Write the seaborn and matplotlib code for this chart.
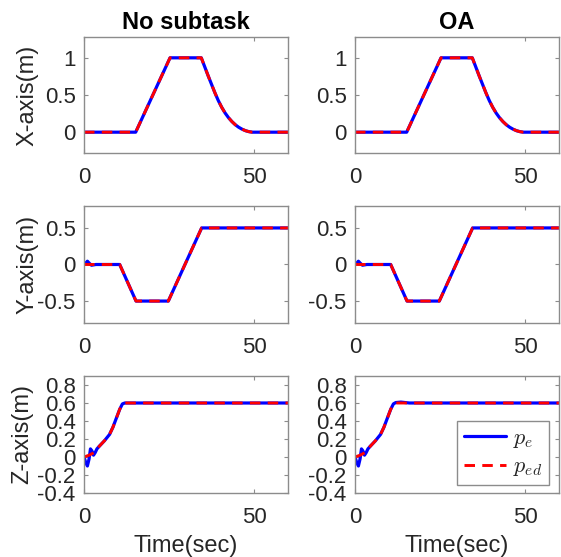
import matplotlib
matplotlib.use("Agg")
import matplotlib.pyplot as plt
import seaborn as sns

# ---------------- data ----------------
titles = ["No subtask", "OA"]
ylabels = ["X-axis(m)", "Y-axis(m)", "Z-axis(m)"]
legend_labels = [r"$p_e$", r"$p_{ed}$"]

# X axis: desired and actual (identical within line width)
x_t = [0, 15.2, 25.3, 34.5, 35.5, 36.5, 37.5, 38.5, 39.5, 40.5, 41.5, 42.5,
       43.5, 44.5, 45.5, 46.5, 47.5, 48.5, 49.5, 60]
x_ed = [0, 0, 1, 1, 0.88, 0.76, 0.645, 0.53, 0.425, 0.335, 0.258, 0.195,
        0.143, 0.1, 0.066, 0.04, 0.02, 0.007, 0, 0]
x_e = [0, 0, 1, 1, 0.88, 0.76, 0.645, 0.53, 0.425, 0.335, 0.258, 0.195,
       0.143, 0.1, 0.066, 0.04, 0.02, 0.007, 0, 0]

# Y axis
y_t_d = [0, 10.5, 15.3, 24.8, 34.6, 60]
y_ed = [0, 0, -0.5, -0.5, 0.5, 0.5]
y_t_e = [0, 0.5, 1.0, 1.5, 2.2, 3.5, 10.5, 15.3, 24.8, 34.6, 60]
y_e = [0, 0.02, 0.045, 0.02, -0.01, 0, 0, -0.5, -0.5, 0.5, 0.5]

# Z axis
z_t_d = [0, 1.5, 3, 4.5, 6, 7.5, 8.5, 9.5, 10.5, 11.3, 12, 60]
z_ed = [0, 0.02, 0.05, 0.12, 0.18, 0.25, 0.33, 0.43, 0.53, 0.59, 0.6, 0.6]
z_t_e1 = [0, 0.5, 1.0, 1.5, 1.9, 2.3, 2.8, 3.3, 3.8, 4.5, 6, 7.5, 8.5, 9.5,
          10.5, 11.3, 12, 60]
z_e1 = [0, -0.06, -0.1, -0.02, 0.09, 0.07, 0.02, 0.05, 0.09, 0.12, 0.18,
        0.25, 0.33, 0.43, 0.53, 0.59, 0.6, 0.6]
z_t_e2 = [0, 0.5, 1.0, 1.5, 1.9, 2.3, 2.8, 3.3, 3.8, 4.5, 6, 7.5, 8.5, 9.5,
          10.5, 11.3, 12, 13.5, 16, 60]
z_e2 = [0, -0.06, -0.1, -0.02, 0.09, 0.07, 0.02, 0.05, 0.09, 0.12, 0.18,
        0.25, 0.33, 0.43, 0.53, 0.59, 0.605, 0.61, 0.6, 0.6]

xticks = [0, 50]
yticks_rows = [[0, 0.5, 1], [-0.5, 0, 0.5], [-0.4, -0.2, 0, 0.2, 0.4, 0.6, 0.8]]
ytick_labels_rows = [["0", "0.5", "1"], ["-0.5", "0", "0.5"],
                     ["-0.4", "-0.2", "0", "0.2", "0.4", "0.6", "0.8"]]
ylims = [(-0.28, 1.28), (-0.8, 0.8), (-0.4, 0.9)]

# ---------------- style ----------------
sns.set_theme(style="white")
plt.rcParams["font.family"] = ["Liberation Sans", "DejaVu Sans"]
plt.rcParams["mathtext.fontset"] = "cm"
plt.rcParams["axes.unicode_minus"] = False

GRAY = "#8c8c8c"
TXT = "#262626"
BLUE = "#0000ff"
RED = "#ff0000"

fig = plt.figure(figsize=(5.61, 5.57), dpi=100)

lefts = [84 / 561, 355 / 561]
width = 204 / 561
rows = [(37, 153), (206, 323), (376, 493)]

series = [
    [(x_t, x_e, x_t, x_ed), (x_t, x_e, x_t, x_ed)],
    [(y_t_e, y_e, y_t_d, y_ed), (y_t_e, y_e, y_t_d, y_ed)],
    [(z_t_e1, z_e1, z_t_d, z_ed), (z_t_e2, z_e2, z_t_d, z_ed)],
]

for r, (top, bot) in enumerate(rows):
    for c in range(2):
        ax = fig.add_axes([lefts[c], 1 - bot / 557, width, (bot - top) / 557])
        te, ve, td, vd = series[r][c]
        sns.lineplot(x=te, y=ve, ax=ax, color=BLUE, linewidth=2.3,
                     estimator=None, sort=False, label=legend_labels[0])
        sns.lineplot(x=td, y=vd, ax=ax, color=RED, linewidth=2.1,
                     estimator=None, sort=False, label=legend_labels[1],
                     linestyle=(0, (3.6, 2.5)))
        ax.set_xlim(0, 60)
        ax.set_ylim(*ylims[r])
        ax.set_xticks(xticks)
        ax.set_xticklabels([str(v) for v in xticks])
        ax.set_yticks(yticks_rows[r])
        ax.set_yticklabels(ytick_labels_rows[r])
        for s in ax.spines.values():
            s.set_color(GRAY)
            s.set_linewidth(1.0)
        ax.tick_params(axis="both", which="both", direction="in", length=3,
                       width=0.8, color=GRAY, labelcolor=TXT, labelsize=16,
                       top=True, right=True, bottom=True, left=True)
        ax.tick_params(axis="x", pad=10)
        ax.tick_params(axis="y", pad=6)
        ax.set_xlabel("")
        ax.set_ylabel("")
        if c == 0:
            ax.set_ylabel(ylabels[r], fontsize=17, color=TXT)
            ax.yaxis.set_label_coords(-0.225 if r < 2 else -0.25, 0.5)
        if r == 0:
            ax.set_title(titles[c], fontsize=17, fontweight="bold",
                         color="black", pad=6)
        if r == 2:
            ax.set_xlabel("Time(sec)", fontsize=17, color=TXT)
            ax.xaxis.set_label_coords(0.5, -0.36)
        leg = ax.get_legend()
        if leg is not None:
            leg.remove()
        if r == 2 and c == 1:
            handles, labels = ax.get_legend_handles_labels()
            lg = ax.legend(handles, labels, loc="lower right",
                           bbox_to_anchor=(0.951, 0.068), fontsize=16,
                           frameon=True, fancybox=False, framealpha=1,
                           edgecolor=GRAY, handlelength=1.9,
                           borderpad=0.3, labelspacing=0.3,
                           handletextpad=0.3, borderaxespad=0)
            lg.get_frame().set_linewidth(1.0)

fig.savefig("out.png", dpi=100)
